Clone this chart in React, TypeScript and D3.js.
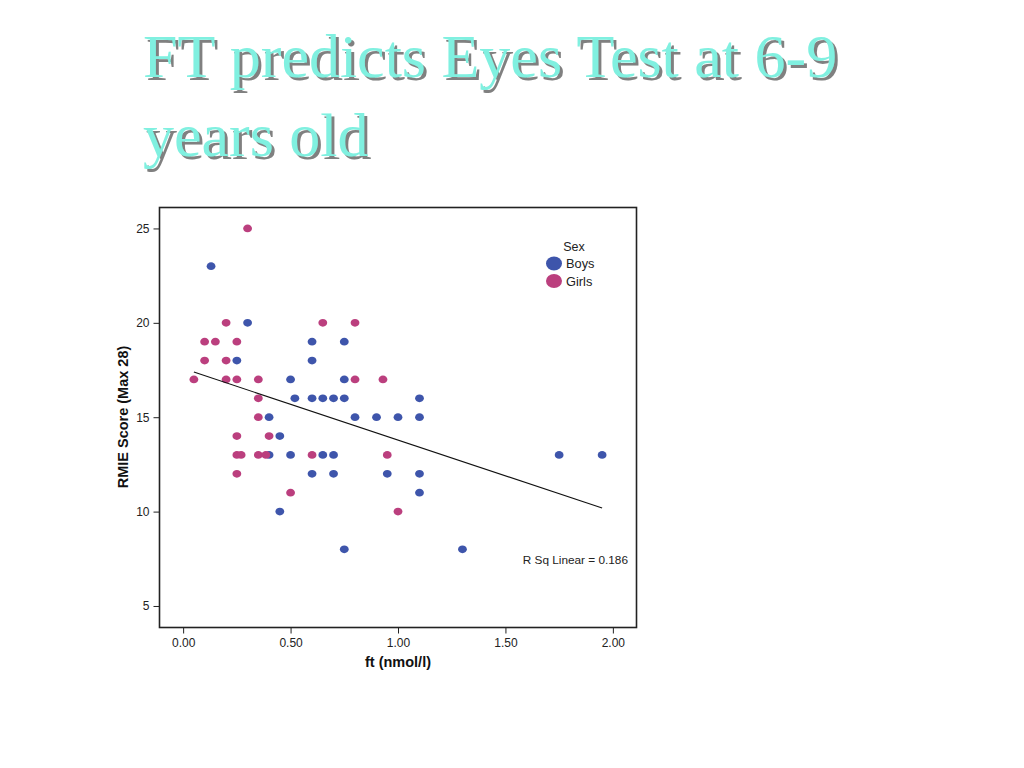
import { useEffect, useRef } from 'react'
import * as d3 from 'd3'

const W = 1024, H = 768

// ft (nmol/l) vs RMIE score
const boysFt    = [0.13, 0.30, 0.60, 0.75, 0.25, 0.60, 0.50, 0.75, 0.52, 0.60, 0.65, 0.70, 0.75, 1.10, 0.40, 0.80, 0.90, 1.00, 1.10, 0.45, 0.40, 0.50, 0.65, 0.70, 1.75, 1.95, 0.60, 0.70, 0.95, 1.10, 1.10, 0.45, 0.75, 1.30]
const boysScore = [23, 20, 19, 19, 18, 18, 17, 17, 16, 16, 16, 16, 16, 16, 15, 15, 15, 15, 15, 14, 13, 13, 13, 13, 13, 13, 12, 12, 12, 12, 11, 10, 8, 8]
const girlsFt    = [0.30, 0.20, 0.65, 0.80, 0.10, 0.15, 0.25, 0.10, 0.20, 0.05, 0.20, 0.25, 0.35, 0.80, 0.93, 0.35, 0.35, 0.25, 0.40, 0.25, 0.27, 0.35, 0.385, 0.60, 0.95, 0.25, 0.50, 1.00]
const girlsScore = [25, 20, 20, 20, 19, 19, 19, 18, 18, 17, 17, 17, 17, 17, 17, 16, 15, 14, 14, 13, 13, 13, 13, 13, 13, 12, 11, 10]

const xTicks = [0, 0.5, 1, 1.5, 2]
const yTicks = [5, 10, 15, 20, 25]
const fitIntercept = 17.58
const fitSlope = -3.79
const fitRange = [0.05, 1.95]
const rSqText = 'R Sq Linear = 0.186'
const titleLines = ['FT predicts Eyes Test at 6-9', 'years old']

const groups = [
  { name: 'Boys', color: '#3e55ab', ft: boysFt, score: boysScore },
  { name: 'Girls', color: '#bb3f7e', ft: girlsFt, score: girlsScore },
]

const FONT = 'Arial, "Liberation Sans", sans-serif'

export default function App() {
  const ref = useRef<SVGSVGElement>(null)

  useEffect(() => {
    const svg = d3.select(ref.current)
    svg.selectAll('*').remove()

    const left = 159.5, right = 636.5, top = 207.5, bottom = 627.5
    const x = d3.scaleLinear([-0.11, 2.11], [left, right])
    const y = d3.scaleLinear([3.86, 26.11], [bottom, top])

    // title with drop shadow
    const f = svg.append('defs').append('filter').attr('id', 'shadow')
      .attr('x', '-5%').attr('y', '-10%').attr('width', '110%').attr('height', '130%')
    f.append('feDropShadow').attr('dx', 3).attr('dy', 3).attr('stdDeviation', 0.4)
      .attr('flood-color', '#808080').attr('flood-opacity', 1)
    titleLines.forEach((t, i) => {
      svg.append('text').attr('x', 143).attr('y', 77 + i * 79).text(t)
        .attr('font-family', '"Liberation Serif", "Times New Roman", serif')
        .attr('font-size', 62).attr('fill', '#80f0e0').attr('filter', 'url(#shadow)')
    })

    // axes
    const yAxis = svg.append('g').attr('transform', `translate(${left},0)`)
      .call(d3.axisLeft(y).tickValues(yTicks).tickSize(6).tickPadding(4).tickFormat(d3.format('d')))
    const xAxis = svg.append('g').attr('transform', `translate(0,${bottom})`)
      .call(d3.axisBottom(x).tickValues(xTicks).tickSize(6).tickPadding(5).tickFormat(d3.format('.2f')))
    ;[yAxis, xAxis].forEach((a) => {
      a.select('.domain').remove()
      a.selectAll('line').attr('stroke', '#222')
      a.selectAll('text').attr('font-family', FONT).attr('font-size', 12).attr('fill', '#222')
    })

    // frame
    svg.append('rect').attr('x', left).attr('y', top).attr('width', right - left).attr('height', bottom - top)
      .attr('fill', 'none').attr('stroke', '#222').attr('stroke-width', 1.6)

    // points
    groups.forEach((g) => {
      svg.append('g').selectAll('ellipse').data(g.ft).join('ellipse')
        .attr('cx', (d) => x(d)).attr('cy', (_, i) => y(g.score[i]))
        .attr('rx', 4.4).attr('ry', 3.9).attr('fill', g.color)
    })

    // fit line
    svg.append('path')
      .attr('d', d3.line<number>().x((d) => x(d)).y((d) => y(fitIntercept + fitSlope * d))(fitRange))
      .attr('stroke', '#111').attr('stroke-width', 1.1).attr('fill', 'none')

    svg.append('text').attr('x', 628).attr('y', 564).attr('text-anchor', 'end').text(rSqText)
      .attr('font-family', FONT).attr('font-size', 11.8).attr('fill', '#222')

    // legend
    svg.append('text').attr('x', 574).attr('y', 251).attr('text-anchor', 'middle').text('Sex')
      .attr('font-family', FONT).attr('font-size', 12.5).attr('fill', '#222')
    groups.forEach((g, i) => {
      const cy = 263.5 + i * 17.5
      svg.append('ellipse').attr('cx', 554).attr('cy', cy).attr('rx', 8).attr('ry', 7).attr('fill', g.color)
      svg.append('text').attr('x', 566).attr('y', cy + 4.5).text(g.name)
        .attr('font-family', FONT).attr('font-size', 12.8).attr('fill', '#222')
    })

    // axis titles
    svg.append('text').attr('x', 398).attr('y', 667).attr('text-anchor', 'middle').text('ft (nmol/l)')
      .attr('font-family', FONT).attr('font-size', 14.5).attr('font-weight', 'bold').attr('fill', '#111')
    svg.append('text').attr('transform', 'translate(128,417) rotate(-90)').attr('text-anchor', 'middle')
      .text('RMIE Score (Max 28)')
      .attr('font-family', FONT).attr('font-size', 14.5).attr('font-weight', 'bold').attr('fill', '#111')
  }, [])

  return (
    <svg ref={ref} width={W} height={H} viewBox={`0 0 ${W} ${H}`}
      style={{ position: 'absolute', left: 0, top: 0, background: '#fff' }} />
  )
}
